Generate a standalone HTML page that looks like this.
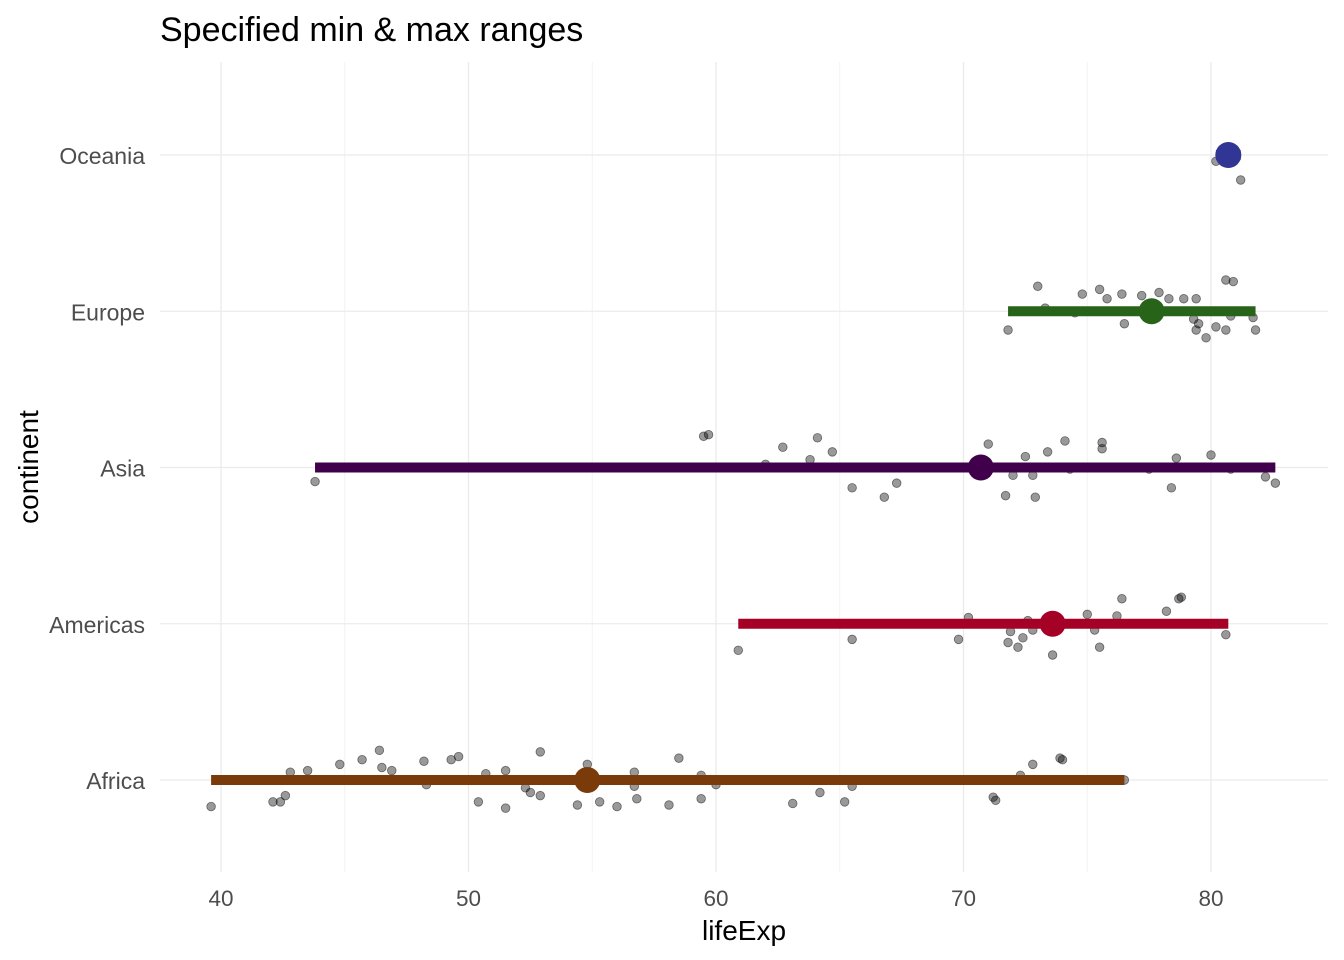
<!DOCTYPE html>
<html><head><meta charset="utf-8"><style>
body{margin:0;background:#fff;}
svg{display:block;font-family:"Liberation Sans",Arial,sans-serif;}
</style></head><body>
<svg id="chart" width="1344" height="960"></svg>
<script>
const categories=["Africa","Americas","Asia","Europe","Oceania"];
const colors=["#7b3a0a","#a50026","#40004b","#276419","#313695"];
const mins=[39.6,60.9,43.8,71.8,80.2];
const maxs=[76.5,80.7,82.6,81.8,81.2];
const means=[54.8,73.6,70.7,77.6,80.7];
const xTicks=[40,50,60,70,80];
const africaVals=[39.6,42.1,42.4,42.6,42.8,43.5,44.8,45.7,46.4,46.5,46.9,48.2,48.3,49.3,49.6,50.4,50.7,51.5,51.5,52.3,52.5,52.9,52.9,54.4,54.8,55.3,56.0,56.7,56.7,56.8,58.1,58.5,59.4,59.4,60.0,63.1,64.2,65.2,65.5,71.2,71.3,72.3,72.8,73.9,74.0,76.5];
const africaJit=[.17,.14,.14,.10,-.05,-.06,-.10,-.13,-.19,-.08,-.06,-.12,.03,-.13,-.15,.14,-.04,.18,-.06,.05,.08,-.18,.10,.16,-.10,.14,.17,-.05,.04,.12,.16,-.14,-.03,.12,.03,.15,.08,.14,.04,.11,.13,-.03,-.10,-.14,-.13,0];
const americasVals=[60.9,65.5,69.8,70.2,71.8,71.9,72.2,72.4,72.6,72.8,73.6,75.0,75.3,75.5,76.2,76.4,78.2,78.7,78.8,80.6];
const americasJit=[.17,.10,.10,-.04,.12,.05,.15,.09,-.02,.04,.20,-.06,.04,.15,-.05,-.16,-.08,-.16,-.17,.07];
const asiaVals=[43.8,59.5,59.7,62.0,62.7,63.8,64.1,64.7,65.5,66.8,67.3,71.0,71.7,72.0,72.5,72.8,72.9,73.4,74.1,74.3,75.6,75.6,77.5,78.4,78.6,80.0,80.8,82.2,82.6];
const asiaJit=[.09,-.20,-.21,-.02,-.13,-.05,-.19,-.10,.13,.19,.10,-.15,.18,.05,-.07,.05,.19,-.10,-.17,.01,-.16,-.12,.01,.13,-.06,-.08,.01,.06,.10];
const europeVals=[71.8,73.0,73.3,74.5,74.8,75.5,75.8,76.4,76.5,77.2,77.9,78.3,78.9,79.3,79.4,79.4,79.5,79.8,80.2,80.6,80.6,80.9,81.7,81.8,80.8];
const europeJit=[.12,-.16,-.02,.01,-.11,-.14,-.08,-.11,.08,-.10,-.12,-.08,-.08,.05,-.08,.12,.08,.17,.10,.12,-.20,-.19,.04,.12,.03];
const oceaniaVals=[80.2,81.2];
const oceaniaJit=[.04,.16];
const ptVals=[africaVals,americasVals,asiaVals,europeVals,oceaniaVals];
const ptJit=[africaJit,americasJit,asiaJit,europeJit,oceaniaJit];

const NS="http://www.w3.org/2000/svg";
const svg=document.getElementById('chart');
const xS=v=>221+(v-40)*24.75;
const yS=i=>780-i*156.25;
const L={l:160,r:1328,t:62,b:872};
function mk(t,a,txt){const e=document.createElementNS(NS,t);for(const k in a)e.setAttribute(k,a[k]);if(txt!==undefined)e.textContent=txt;svg.appendChild(e);return e;}
for(let v=45;v<=85;v+=10){if(xS(v)<L.r){const g=mk('line',{x1:xS(v),x2:xS(v),y1:L.t,y2:L.b,stroke:'#f2f2f2','stroke-width':1});

}}
xTicks.forEach(v=>{const g=mk('line',{x1:xS(v),x2:xS(v),y1:L.t,y2:L.b,stroke:'#ebebeb','stroke-width':1.3});


const t=mk('text',{x:xS(v),y:906,'text-anchor':'middle','font-size':'22.5','fill':'#4d4d4d'},v);

});
categories.forEach((c,i)=>{const g=mk('line',{x1:L.l,x2:L.r,y1:yS(i),y2:yS(i),stroke:'#ebebeb','stroke-width':1.3});


const t=mk('text',{x:145,y:yS(i)+9,'text-anchor':'end','font-size':'23','fill':'#4d4d4d'},c);

});
ptVals.forEach((arr,i)=>arr.forEach((v,j)=>{const p=mk('circle',{cx:xS(v),cy:yS(i)+ptJit[i][j]*156.25,r:4.3,fill:'rgba(0,0,0,0.4)',stroke:'rgba(0,0,0,0.5)','stroke-width':0.8});

}));
categories.forEach((c,i)=>{const r=mk('line',{x1:xS(mins[i]),x2:xS(maxs[i]),y1:yS(i),y2:yS(i),stroke:colors[i],'stroke-width':10});


const m=mk('circle',{cx:xS(means[i]),cy:yS(i),r:13,fill:colors[i]});

});
const ti=mk('text',{x:160,y:41,'font-size':'34','fill':'#000'},'Specified min & max ranges');


const xt=mk('text',{x:744,y:940,'text-anchor':'middle','font-size':'28','fill':'#000'},'lifeExp');


const yt=mk('text',{x:0,y:0,'text-anchor':'middle','font-size':'28','fill':'#000',transform:'translate(38,467) rotate(-90)'},'continent');


</script>
</body></html>
